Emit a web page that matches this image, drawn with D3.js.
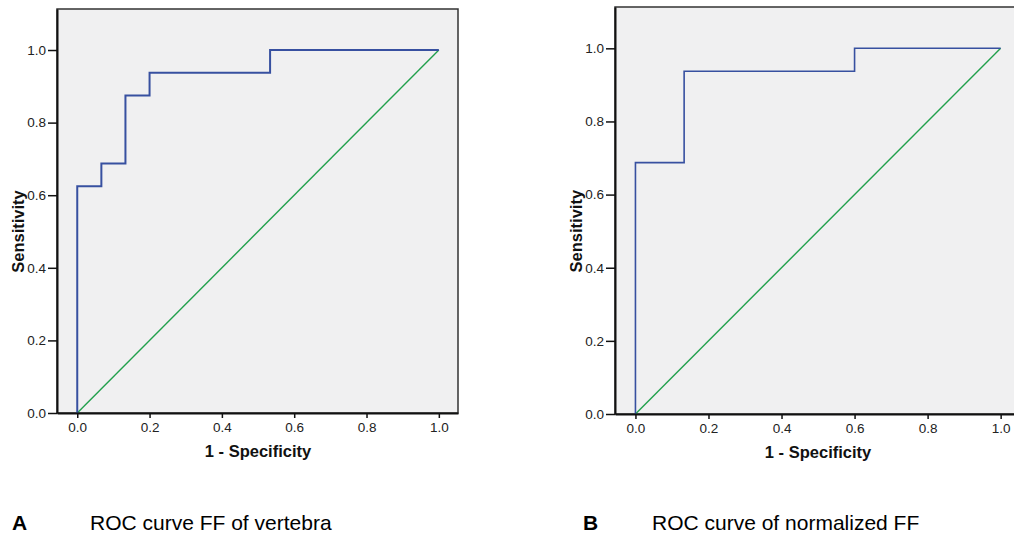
<!DOCTYPE html>
<html>
<head>
<meta charset="utf-8">
<script src="https://cdn.jsdelivr.net/npm/d3@7"></script>
<style>
    body { margin: 0; background: #fff; }
    svg { display: block; font-family: "Liberation Sans", Arial, sans-serif; }
    .tick text { fill: #222; }
</style>
</head>
<body>
<div id="chart"></div>
<script>
// ROC points (1 - specificity, sensitivity), drawn as steps
const fprA = [0, 0, 0.0667, 0.1333, 0.2, 0.5333, 1];
const tprA = [0, 0.625, 0.6875, 0.875, 0.9375, 1, 1];
const fprB = [0, 0, 0.1333, 0.6, 1];
const tprB = [0, 0.6875, 0.9375, 1, 1];
const refLine = [0, 1];
const tickValues = [0, 0.2, 0.4, 0.6, 0.8, 1.0];
const captions = [
    {letter: "A", text: "ROC curve FF of vertebra"},
    {letter: "B", text: "ROC curve of normalized FF"}
];

const svg = d3.select("#chart").append("svg")
    .attr("width", 1014)
    .attr("height", 535);

function drawPanel(cfg, fpr, tpr, caption) {
    let x = d3.scaleLinear().domain([-0.056, 1.053]).range([cfg.left, cfg.right]);
    let y = d3.scaleLinear().domain([0, 1.113]).range([cfg.bottom, cfg.top]);

    let g = svg.append("g");

    // plot area
    g.append("rect")
        .attr("x", x(-0.056))
        .attr("y", y(1.113))
        .attr("width", x(1.053) - x(-0.056))
        .attr("height", y(0) - y(1.113))
        .attr("fill", "#f0f0f1")
        .attr("stroke", "#333")
        .attr("stroke-width", 1.5);

    // diagonal reference
    g.append("line")
        .attr("x1", x(refLine[0])).attr("y1", y(refLine[0]))
        .attr("x2", x(refLine[1])).attr("y2", y(refLine[1]))
        .attr("stroke", "#21a04c")
        .attr("stroke-width", 1.4);

    // roc curve
    let pts = fpr.map((d, i) => [d, tpr[i]]);
    let line = d3.line()
        .x(d => x(d[0]))
        .y(d => y(d[1]))
        .curve(d3.curveStepAfter);
    g.append("path")
        .attr("d", line(pts))
        .attr("fill", "none")
        .attr("stroke", "#3750a0")
        .attr("stroke-width", cfg.lw);

    // axes
    let xAxis = d3.axisBottom(x).tickValues(tickValues).tickFormat(d3.format(".1f"))
        .tickSize(5).tickSizeOuter(0).tickPadding(4);
    let yAxis = d3.axisLeft(y).tickValues(tickValues).tickFormat(d3.format(".1f"))
        .tickSize(9).tickSizeOuter(0).tickPadding(2);

    let gx = g.append("g")
        .attr("transform", `translate(0, ${y(0)})`)
        .call(xAxis);
    let gy = g.append("g")
        .attr("transform", `translate(${x(-0.056)}, 0)`)
        .call(yAxis);
    gx.select(".domain").attr("stroke", "#111").attr("stroke-width", 2);
    gy.select(".domain").attr("stroke", "#111").attr("stroke-width", 2);
    svg.selectAll(".tick line").attr("stroke", "#111").attr("stroke-width", 1.5);
    svg.selectAll(".tick text").style("font-size", "13.5px");

    // axis titles
    g.append("text")
        .text("1 - Specificity")
        .attr("x", x(0.5))
        .attr("y", cfg.bottom + 44)
        .attr("text-anchor", "middle")
        .style("font-weight", "bold")
        .style("font-size", "16.5px")
        .attr("fill", "#111");
    g.append("text")
        .text("Sensitivity")
        .attr("transform", `translate(${cfg.left - 33}, ${y(0.5)}) rotate(-90)`)
        .attr("text-anchor", "middle")
        .style("font-weight", "bold")
        .style("font-size", "16.5px")
        .attr("fill", "#111");

    // caption below panel
    g.append("text")
        .text(caption.letter)
        .attr("x", cfg.capX)
        .attr("y", 530)
        .style("font-weight", "bold")
        .style("font-size", "21px")
        .attr("fill", "#000");
    g.append("text")
        .text(caption.text)
        .attr("x", cfg.capX + cfg.capGap)
        .attr("y", 530)
        .style("font-size", "21px")
        .attr("fill", "#000");
}

drawPanel({left: 57, right: 458, top: 9, bottom: 413, lw: 2, capX: 12, capGap: 78}, fprA, tprA, captions[0]);
drawPanel({left: 615, right: 1020, top: 7, bottom: 414, lw: 1.6, capX: 583, capGap: 69}, fprB, tprB, captions[1]);
</script>
</body>
</html>
